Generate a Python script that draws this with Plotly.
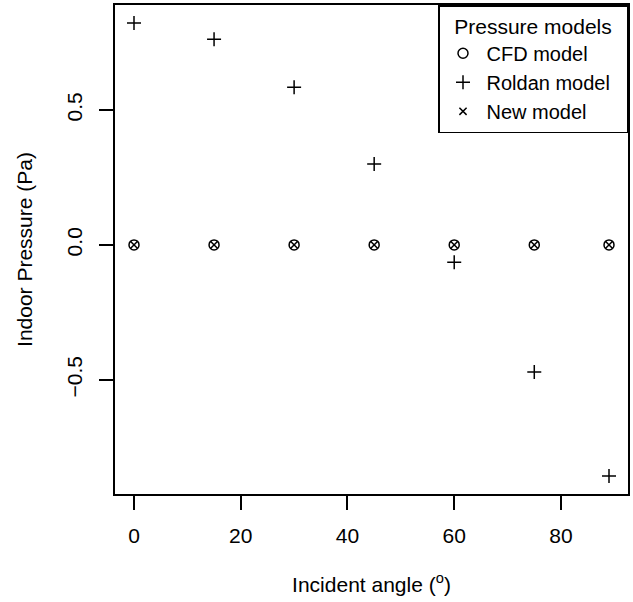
import plotly.graph_objects as go

angles = [0, 15, 30, 45, 60, 75, 89]
cfd_model = [0, 0, 0, 0, 0, 0, 0]
roldan_model = [0.822, 0.762, 0.584, 0.300, -0.064, -0.471, -0.856]
new_model = [0, 0, 0, 0, 0, 0, 0]
series_names = ["CFD model", "Roldan model", "New model"]
x_ticks = [0, 20, 40, 60, 80]
y_ticks = [-0.5, 0.0, 0.5]
y_ticklabels = ["\u22120.5", "0.0", "0.5"]

FONT = "Liberation Sans, Arial, Helvetica, sans-serif"
FS = 21
LW = 1.5
PAD = "\u00a0\u00a0"


def r_range(vals):
    lo, hi = min(vals), max(vals)
    pad = (hi - lo) * 0.04
    return [lo - pad, hi + pad]


all_y = cfd_model + roldan_model + new_model

fig = go.Figure()
fig.add_trace(go.Scatter(
    x=angles, y=cfd_model, mode="markers", name=series_names[0] + PAD,
    marker=dict(symbol="circle-open", size=10, color="black", line=dict(width=LW, color="black")),
))
fig.add_trace(go.Scatter(
    x=angles, y=roldan_model, mode="markers", name=series_names[1] + PAD,
    marker=dict(symbol="cross-thin-open", size=10, color="black", line=dict(width=LW, color="black")),
))
fig.add_trace(go.Scatter(
    x=angles, y=new_model, mode="markers", name=series_names[2] + PAD,
    marker=dict(symbol="x-thin-open", size=7.2, color="black", line=dict(width=LW, color="black")),
))

axis_common = dict(
    showline=True, linecolor="black", linewidth=LW, mirror=True,
    ticks="outside", ticklen=14, tickwidth=LW, tickcolor="black",
    showgrid=False, zeroline=False,
    tickfont=dict(family=FONT, size=FS, color="black"),
)

fig.update_xaxes(
    **axis_common, range=r_range(angles), tickvals=x_ticks,
    ticklabelstandoff=8,
    title=dict(text="Incident angle (<sup>o</sup>)", font=dict(family=FONT, size=FS, color="black"), standoff=31),
)
fig.update_yaxes(
    **axis_common, range=r_range(all_y), tickvals=y_ticks, ticktext=y_ticklabels,
    tickangle=-90, ticklabelstandoff=9,
    title=dict(text="Indoor Pressure (Pa)", font=dict(family=FONT, size=FS, color="black"), standoff=24),
)

fig.update_layout(
    width=633, height=602,
    margin=dict(l=115, r=3, t=5, b=108),
    paper_bgcolor="white", plot_bgcolor="white",
    font=dict(family=FONT, size=FS, color="black"),
    showlegend=True,
    legend=dict(
        x=1, y=1, xanchor="right", yanchor="top",
        bgcolor="white", bordercolor="black", borderwidth=LW,
        font=dict(family=FONT, size=20, color="black"),
        title=dict(text="Pressure models", side="top center",
                   font=dict(family=FONT, size=FS, color="black")),
        tracegroupgap=0, itemwidth=37,
    ),
)

fig.write_html("out.html", config={"displayModeBar": False},
               post_script="document.body.style.margin='0';")
